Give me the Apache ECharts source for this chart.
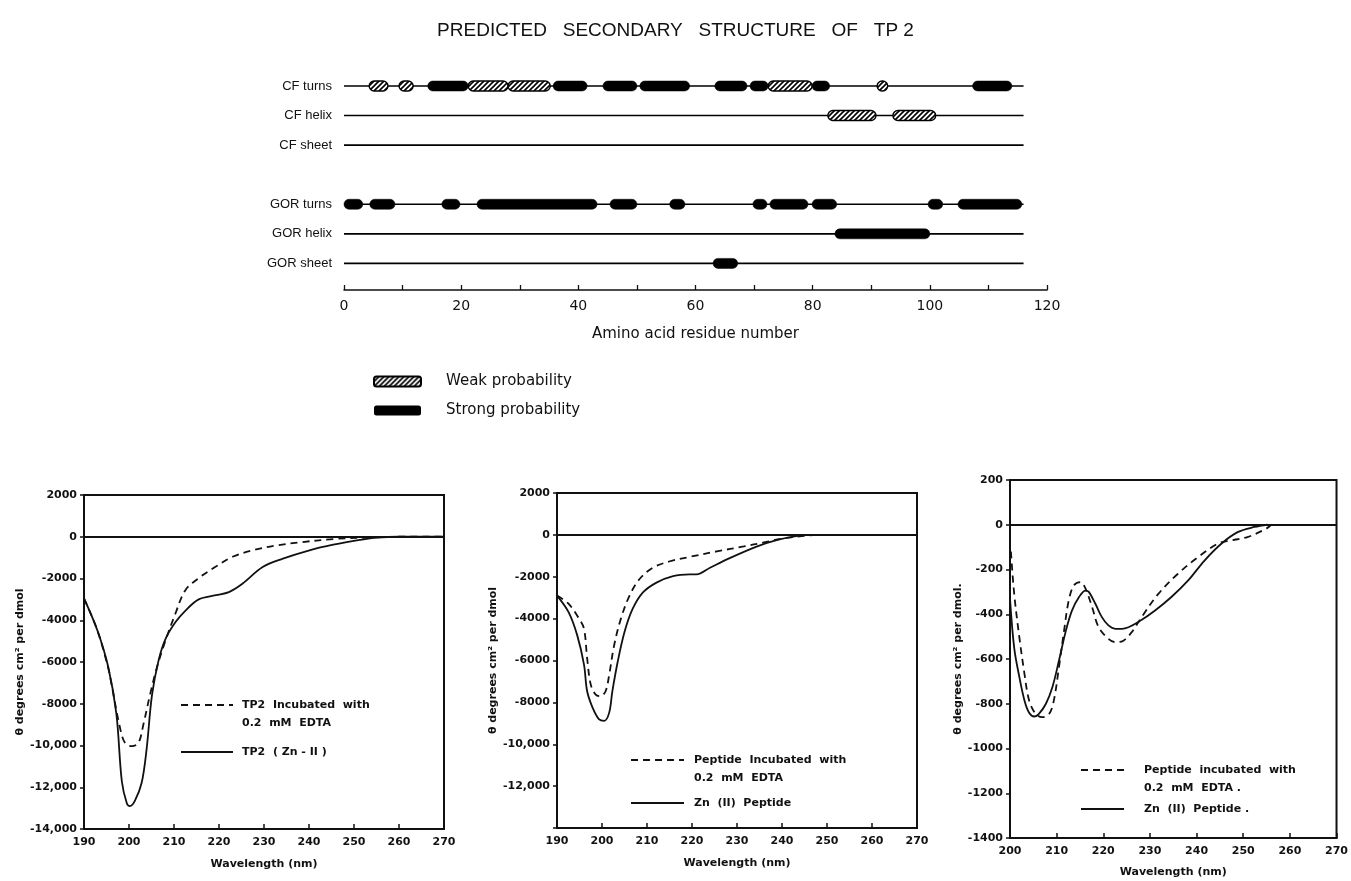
<!DOCTYPE html>
<html>
<head>
<meta charset="utf-8">
<script src="https://cdn.jsdelivr.net/npm/echarts@6/dist/echarts.min.js"></script>
<style>
html, body { margin: 0; background: #fff; }
#main { width: 1351px; height: 881px; }
</style>
</head>
<body>
<div id="main"></div>
<script>
// prediction diagram rows (row position on the hidden y scale)
const rowNames = ['CF turns', 'CF helix', 'CF sheet', 'GOR turns', 'GOR helix', 'GOR sheet']
const rowPos = [0, 1, 2, 4, 5, 6]
const residueCount = 116

// [first residue, last residue, row position]
const weakSegments = [
  [4.3, 7.5, 0], [9.4, 11.8, 0], [21.2, 28.0, 0], [28.0, 35.2, 0], [72.4, 79.9, 0], [91.0, 92.8, 0],
  [82.6, 90.8, 1], [93.7, 101.0, 1]
]
const strongSegments = [
  [14.3, 21.2, 0], [35.7, 41.5, 0], [44.2, 50.0, 0], [50.5, 59.0, 0], [63.3, 68.8, 0],
  [69.3, 72.4, 0], [79.9, 82.9, 0], [107.3, 114.0, 0],
  [0, 3.2, 4], [4.4, 8.7, 4], [16.7, 19.8, 4], [22.7, 43.2, 4], [45.4, 50.0, 4], [55.6, 58.2, 4],
  [69.8, 72.2, 4], [72.7, 79.2, 4], [79.9, 84.1, 4], [99.7, 102.2, 4], [104.8, 115.7, 4],
  [83.8, 100.0, 5],
  [63.0, 67.2, 6]
]

// CD spectrum 1: TP2
const tp2EdtaNm = [190, 193, 195.4, 196.1, 198.0, 199.1, 200.6, 202.1, 203.2, 204.7, 206.2, 208.1, 210.3, 212.5, 215.5, 219.3, 223.0, 227.5, 232.7, 237.9, 245.4, 252.8, 260, 270]
const tp2EdtaTheta = [-2950, -4500, -6300, -7050, -9150, -9870, -10030, -9870, -8990, -7540, -6260, -4980, -3690, -2570, -1980, -1430, -960, -650, -420, -270, -110, -40, 0, 0]
const tp2ZnNm = [190, 193, 195.4, 197.2, 198.4, 199.5, 200.2, 201.3, 202.8, 203.9, 205.1, 206.6, 208.1, 210.3, 212.5, 215.5, 219.3, 222.2, 225.2, 229.7, 234.2, 240.1, 245.4, 251.3, 255.1, 260, 270]
const tp2ZnTheta = [-2950, -4500, -6250, -8500, -11700, -12750, -12900, -12650, -11800, -10200, -7600, -5900, -4900, -4100, -3550, -3000, -2800, -2650, -2250, -1450, -1050, -650, -380, -150, -40, 0, 0]

// CD spectrum 2: peptide
const pepEdtaNm = [190, 192.6, 194.9, 196.0, 196.7, 197.5, 198.6, 199.7, 200.8, 201.6, 202.7, 204.2, 206.1, 208.3, 211.3, 215.1, 219.5, 225.5, 231.5, 236.0, 240.5, 244.9, 247.9, 270]
const pepEdtaTheta = [-2900, -3300, -4000, -4480, -5900, -7150, -7630, -7700, -7470, -6680, -5270, -4000, -2910, -2120, -1570, -1260, -1050, -790, -550, -360, -160, -50, 0, 0]
const pepZnNm = [190, 192.6, 194.5, 196.0, 196.7, 197.9, 199.3, 200.5, 201.6, 202.3, 203.5, 205.0, 206.8, 209.1, 212.1, 215.8, 219.5, 221.0, 224.0, 228.5, 234.5, 239.0, 243.5, 246.4, 270]
const pepZnTheta = [-2900, -3700, -4800, -6200, -7470, -8250, -8800, -8880, -8490, -7470, -6050, -4640, -3540, -2750, -2280, -1970, -1890, -1890, -1570, -1100, -550, -240, -50, 0, 0]

// CD spectrum 3: peptide, 200-270 nm
const frgEdtaNm = [200.2, 200.9, 202.0, 203.1, 204.1, 205.5, 206.9, 208.4, 209.4, 210.5, 211.6, 212.6, 213.7, 215.1, 216.2, 217.6, 219.0, 221.1, 222.6, 224.3, 226.1, 228.2, 231.8, 236.0, 240.3, 244.5, 247.4, 250.9, 254.9, 256.0]
const frgEdtaTheta = [-120, -309, -502, -666, -785, -845, -860, -845, -785, -636, -472, -338, -271, -256, -286, -368, -458, -510, -525, -518, -480, -413, -309, -219, -145, -85, -70, -55, -18, 0]
const frgZnNm = [200.0, 200.9, 202.0, 203.1, 204.1, 205.2, 206.2, 207.7, 209.1, 210.5, 212.0, 213.3, 214.8, 216.2, 216.9, 218.3, 219.7, 221.1, 222.6, 224.0, 225.4, 227.5, 231.1, 234.6, 238.2, 241.7, 245.3, 248.8, 252.4, 255.2]
const frgZnTheta = [-330, -550, -680, -785, -840, -857, -845, -800, -725, -607, -472, -383, -323, -294, -300, -353, -413, -450, -465, -465, -458, -435, -383, -323, -249, -160, -85, -33, -10, 0]

const legendNames = [
  ['TP2 Incubated with 0.2 mM EDTA', 'TP2 (Zn-II)'],
  ['Peptide Incubated with 0.2 mM EDTA', 'Zn (II) Peptide'],
  ['Peptide incubated with 0.2 mM EDTA.', 'Zn (II) Peptide.']
]
const legendText = {
  'TP2 Incubated with 0.2 mM EDTA': '\nTP2  Incubated  with\n0.2  mM  EDTA',
  'TP2 (Zn-II)': 'TP2  ( Zn - II )',
  'Peptide Incubated with 0.2 mM EDTA': '\nPeptide  Incubated  with\n0.2  mM  EDTA',
  'Zn (II) Peptide': 'Zn  (II)  Peptide',
  'Peptide incubated with 0.2 mM EDTA.': '\nPeptide  incubated  with\n0.2  mM  EDTA .',
  'Zn (II) Peptide.': 'Zn  (II)  Peptide .'
}

const ink = '#111'
const rowFont = '"Liberation Sans", Arial, sans-serif'
const topFont = '"DejaVu Sans", sans-serif'
const cdFont = '"DejaVu Sans", sans-serif'

// hatch used for "weak probability"
function makeHatch() {
  const c = document.createElement('canvas')
  c.width = 5
  c.height = 5
  const g = c.getContext('2d')
  g.fillStyle = '#fff'
  g.fillRect(0, 0, 5, 5)
  g.strokeStyle = '#000'
  g.lineWidth = 1.6
  g.beginPath()
  g.moveTo(-1, 6); g.lineTo(6, -1)
  g.moveTo(-1, 1); g.lineTo(1, -1)
  g.moveTo(4, 6); g.lineTo(6, 4)
  g.stroke()
  return { image: c, repeat: 'repeat' }
}
const hatch = makeHatch()

function zip(xs, ys) {
  return xs.map((x, i) => [x, ys[i]])
}

function segRenderer(weak) {
  return function (params, api) {
    const a = api.coord([api.value(0), api.value(2)])
    const b = api.coord([api.value(1), api.value(2)])
    const h = 10
    return {
      type: 'rect',
      shape: { x: a[0], y: a[1] - h / 2, width: b[0] - a[0], height: h, r: h / 2 },
      style: weak
        ? { fill: hatch, stroke: '#000', lineWidth: 1.4 }
        : { fill: '#000', stroke: '#000', lineWidth: 0.5 }
    }
  }
}

function cdGrid(left, top, width, height) {
  return { left, top, width, height, show: true, borderColor: ink, borderWidth: 2, backgroundColor: 'transparent' }
}

function cdXAxis(idx, min, max, gap) {
  return {
    gridIndex: idx, type: 'value', min, max, interval: 10,
    name: 'Wavelength (nm)', nameLocation: 'middle', nameGap: gap,
    nameTextStyle: { fontFamily: cdFont, fontWeight: 'bold', fontSize: 11, color: ink },
    axisLine: { onZero: false, lineStyle: { color: ink, width: 2 } },
    axisTick: { inside: true, length: 5, lineStyle: { color: ink, width: 1.5 } },
    axisLabel: { margin: 8, fontFamily: cdFont, fontWeight: 'bold', fontSize: 11, color: ink },
    splitLine: { show: false }
  }
}

function cdYAxis(idx, min, max, interval, gap, name, hidden) {
  return {
    gridIndex: idx, type: 'value', min, max, interval,
    name, nameLocation: 'middle', nameGap: gap, nameRotate: 90,
    nameTextStyle: { fontFamily: cdFont, fontWeight: 'bold', fontSize: 11, color: ink },
    axisLine: { onZero: false, lineStyle: { color: ink, width: 2 } },
    axisTick: { inside: false, length: 4, lineStyle: { color: ink, width: 1.5 } },
    axisLabel: {
      margin: 7, fontFamily: cdFont, fontWeight: 'bold', fontSize: 11, color: ink,
      formatter: v => {
        if (hidden.indexOf(v) >= 0) return ''
        if (v === 0) return '0'
        const s = Math.abs(v) >= 10000 ? Math.abs(v).toLocaleString('en-US') : String(Math.abs(v))
        return v < 0 ? '-' + s : s
      }
    },
    splitLine: { show: false }
  }
}

function cdLine(name, idx, data, dashed, zeroLine) {
  const s = {
    name, type: 'line', xAxisIndex: idx, yAxisIndex: idx,
    data, smooth: 0.35, symbol: 'none', showSymbol: false,
    lineStyle: { color: ink, width: 1.8, type: dashed ? [7, 5] : 'solid' },
    itemStyle: { color: ink },
    z: 3
  }
  if (zeroLine) {
    s.markLine = {
      silent: true, symbol: ['none', 'none'], label: { show: false },
      lineStyle: { color: ink, width: 2, type: 'solid' },
      data: [{ yAxis: 0 }]
    }
  }
  return s
}

function cdLegend(i, left, top, iconW, gap, pad) {
  return {
    data: legendNames[i], orient: 'vertical', left, top, padding: 0,
    itemWidth: iconW, itemHeight: 10, itemGap: gap, selectedMode: false,
    itemStyle: { opacity: 0 },
    formatter: n => legendText[n],
    textStyle: { fontFamily: cdFont, fontWeight: 'bold', fontSize: 11, lineHeight: 18, color: ink, padding: [0, 0, 0, pad] }
  }
}

const chart = echarts.init(document.getElementById('main'))

const option = {
  animation: false,
  backgroundColor: '#fff',
  title: {
    text: 'PREDICTED   SECONDARY   STRUCTURE   OF   TP 2',
    left: 'center', top: 16,
    textStyle: { fontFamily: rowFont, fontWeight: 'normal', fontSize: 19, color: ink }
  },
  grid: [
    { left: 344, top: 86, width: 703, height: 204 },
    cdGrid(84, 495, 360, 334),
    cdGrid(557, 493, 360, 335),
    cdGrid(1010, 480, 331, 358)
  ],
  xAxis: [
    {
      gridIndex: 0, type: 'value', min: 0, max: 120, interval: 10,
      name: 'Amino acid residue number', nameLocation: 'middle', nameGap: 37,
      nameTextStyle: { fontFamily: topFont, fontSize: 15, color: ink },
      axisLine: { onZero: false, lineStyle: { color: ink, width: 1.5 } },
      axisTick: { inside: true, length: 5, lineStyle: { color: ink, width: 1.3 } },
      axisLabel: { margin: 9, fontFamily: topFont, fontSize: 14, color: ink, formatter: v => (v % 20 === 0 ? String(v) : '') },
      splitLine: { show: false }
    },
    cdXAxis(1, 190, 270, 30),
    cdXAxis(2, 190, 270, 30),
    cdXAxis(3, 200, 270, 29)
  ],
  yAxis: [
    {
      gridIndex: 0, type: 'value', inverse: true, min: 0, max: 6.9, interval: 1,
      axisLine: { show: false }, axisTick: { show: false }, splitLine: { show: false },
      axisLabel: {
        margin: 12, fontFamily: rowFont, fontSize: 13, color: ink,
        formatter: v => {
          const k = rowPos.indexOf(v)
          return k >= 0 ? rowNames[k] : ''
        }
      }
    },
    cdYAxis(1, -14000, 2000, 2000, 56, 'θ degrees cm² per dmol', []),
    cdYAxis(2, -14000, 2000, 2000, 42, 'θ degrees cm² per dmol', [-14000]),
    cdYAxis(3, -1400, 200, 200, 44, 'θ degrees cm² per dmol.', [])
  ],
  legend: [
    {
      data: ['Weak probability', 'Strong probability'],
      orient: 'vertical', left: 373, top: 373, padding: 0,
      itemWidth: 47, itemHeight: 10, itemGap: 12, selectedMode: false, icon: 'roundRect',
      textStyle: { fontFamily: topFont, fontSize: 15, lineHeight: 17, color: ink, padding: [0, 0, 0, 20] }
    },
    cdLegend(0, 180, 678, 52, 11, 4),
    cdLegend(1, 630, 733, 53, 7, 5),
    cdLegend(2, 1080, 743, 43, 3, 15)
  ],
  series: [
    {
      name: 'rows', type: 'custom', xAxisIndex: 0, yAxisIndex: 0, silent: true,
      data: rowPos.map(p => [0, residueCount, p]),
      encode: { x: [0, 1], y: 2 },
      renderItem: (params, api) => {
        const a = api.coord([api.value(0), api.value(2)])
        const b = api.coord([api.value(1), api.value(2)])
        return { type: 'line', shape: { x1: a[0], y1: a[1], x2: b[0], y2: b[1] }, style: { stroke: '#000', lineWidth: 1.6 } }
      },
      z: 1
    },
    {
      name: 'Weak probability', type: 'custom', xAxisIndex: 0, yAxisIndex: 0,
      data: weakSegments, encode: { x: [0, 1], y: 2 },
      itemStyle: { color: hatch, borderColor: '#000', borderWidth: 1.4 },
      renderItem: segRenderer(true), z: 2
    },
    {
      name: 'Strong probability', type: 'custom', xAxisIndex: 0, yAxisIndex: 0,
      data: strongSegments, encode: { x: [0, 1], y: 2 },
      itemStyle: { color: '#000' },
      renderItem: segRenderer(false), z: 2
    },
    cdLine(legendNames[0][0], 1, zip(tp2EdtaNm, tp2EdtaTheta), true, false),
    cdLine(legendNames[0][1], 1, zip(tp2ZnNm, tp2ZnTheta), false, true),
    cdLine(legendNames[1][0], 2, zip(pepEdtaNm, pepEdtaTheta), true, false),
    cdLine(legendNames[1][1], 2, zip(pepZnNm, pepZnTheta), false, true),
    cdLine(legendNames[2][0], 3, zip(frgEdtaNm, frgEdtaTheta), true, false),
    cdLine(legendNames[2][1], 3, zip(frgZnNm, frgZnTheta), false, true)
  ]
}

chart.setOption(option)
</script>
</body>
</html>
